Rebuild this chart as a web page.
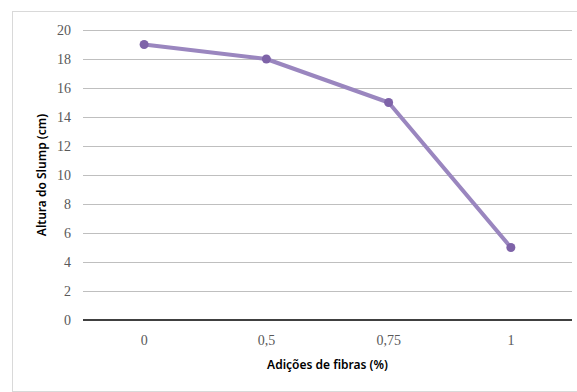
<!DOCTYPE html>
<html>
<head>
<meta charset="utf-8">
<script src="https://cdn.jsdelivr.net/npm/d3@7"></script>
<style>
  body { margin: 0; background: #fff; }
</style>
</head>
<body>
<div id="chart"></div>
<script>
const categories = ['0', '0,5', '0,75', '1']
const values = [19, 18, 15, 5]
const yTicks = [0, 2, 4, 6, 8, 10, 12, 14, 16, 18, 20]

const width = 577
const height = 392
const margin = { top: 30, left: 83, right: 5, bottom: 72 }

const svg = d3
  .select('#chart')
  .append('svg')
  .attr('width', width)
  .attr('height', height)

// chart frame
svg
  .append('rect')
  .attr('x', 12.5)
  .attr('y', 11.5)
  .attr('width', width - 12)
  .attr('height', height - 12)
  .attr('fill', 'none')
  .attr('stroke', '#d9d9d9')

const xScale = d3
  .scaleBand()
  .domain(categories)
  .range([margin.left, width - margin.right])

const yScale = d3
  .scaleLinear()
  .domain([0, 20])
  .range([height - margin.bottom, margin.top])

// gridlines
svg
  .selectAll('.grid')
  .data(yTicks.filter(d => d > 0))
  .enter()
  .append('line')
  .attr('class', 'grid')
  .attr('x1', margin.left)
  .attr('x2', width - margin.right)
  .attr('y1', d => Math.round(yScale(d)) + 0.5)
  .attr('y2', d => Math.round(yScale(d)) + 0.5)
  .attr('stroke', '#bfbfbf')
  .attr('stroke-width', 1)

// baseline
svg
  .append('line')
  .attr('x1', margin.left)
  .attr('x2', width - margin.right)
  .attr('y1', yScale(0))
  .attr('y2', yScale(0))
  .attr('stroke', '#404040')
  .attr('stroke-width', 2)

// y tick labels
svg
  .selectAll('.ytick')
  .data(yTicks)
  .enter()
  .append('text')
  .attr('class', 'ytick')
  .text(d => d)
  .attr('x', 71)
  .attr('y', d => yScale(d))
  .attr('dy', '0.35em')
  .attr('text-anchor', 'end')
  .style('font-family', "'Liberation Serif', serif")
  .attr('font-size', 14)
  .attr('fill', '#595959')

// x tick labels
svg
  .selectAll('.xtick')
  .data(categories)
  .enter()
  .append('text')
  .attr('class', 'xtick')
  .text(d => d)
  .attr('x', d => xScale(d) + xScale.bandwidth() / 2)
  .attr('y', yScale(0) + 25)
  .attr('text-anchor', 'middle')
  .style('font-family', "'Liberation Serif', serif")
  .attr('font-size', 14)
  .attr('fill', '#595959')

// axis titles
svg
  .append('text')
  .text('Adições de fibras (%)')
  .attr('x', (margin.left + width - margin.right) / 2)
  .attr('y', 369)
  .attr('text-anchor', 'middle')
  .style('font-family', "'Noto Sans', sans-serif")
  .attr('font-weight', 600)
  .attr('font-size', 12)
  .attr('fill', '#000')

svg
  .append('text')
  .text('Altura do Slump (cm)')
  .attr('transform', `translate(46, ${yScale(10)}) rotate(-90)`)
  .attr('text-anchor', 'middle')
  .style('font-family', "'Noto Sans', sans-serif")
  .attr('font-weight', 600)
  .attr('font-size', 12)
  .attr('fill', '#000')

const line = d3
  .line()
  .x((d, i) => xScale(categories[i]) + xScale.bandwidth() / 2)
  .y(d => yScale(d))

svg
  .append('path')
  .datum(values)
  .attr('d', line)
  .attr('fill', 'none')
  .attr('stroke', '#9a86bf')
  .attr('stroke-width', 4)
  .attr('stroke-linejoin', 'round')

svg
  .selectAll('circle')
  .data(values)
  .enter()
  .append('circle')
  .attr('cx', (d, i) => xScale(categories[i]) + xScale.bandwidth() / 2)
  .attr('cy', d => yScale(d))
  .attr('r', 4.5)
  .attr('fill', '#7e63a8')
</script>
</body>
</html>
